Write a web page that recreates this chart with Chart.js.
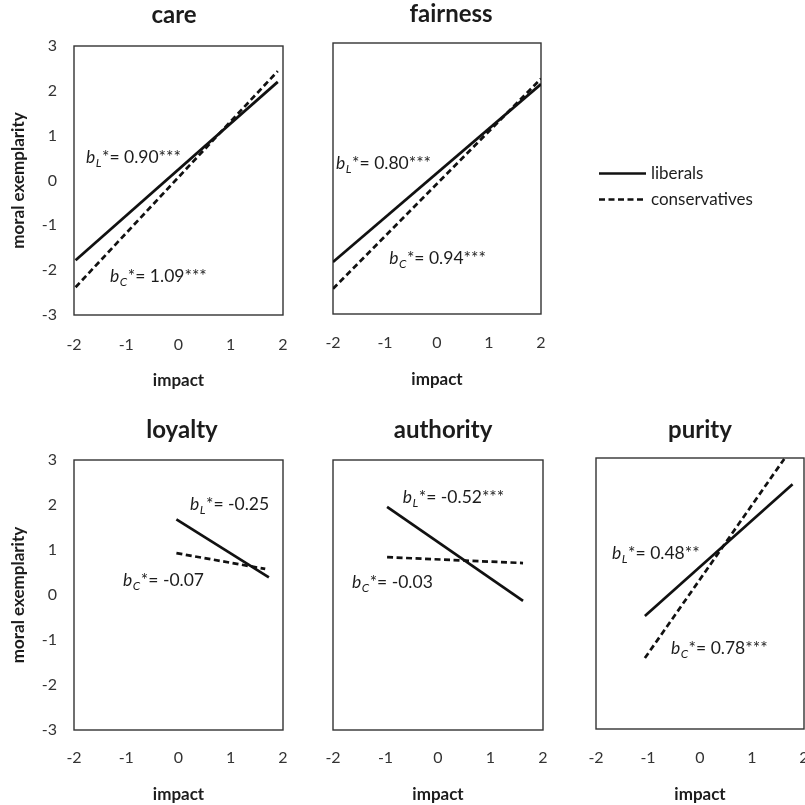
<!DOCTYPE html>
<html><head><meta charset="utf-8">
<script src="https://cdn.jsdelivr.net/npm/chart.js@4"></script>
<style>
html,body{margin:0;padding:0;background:#fff;overflow:hidden;width:805px;height:805px;position:relative;}
.p{position:absolute;}
canvas{display:block;}
</style></head><body>
<script>
// ---------- data ----------
const xTicks = [-2, -1, 0, 1, 2];
const yTicks = [-3, -2, -1, 0, 1, 2, 3];
const panelNames = ['care', 'fairness', 'loyalty', 'authority', 'purity'];
const seriesNames = ['liberals', 'conservatives'];
const xAxisTitle = 'impact';
const yAxisTitle = 'moral exemplarity';

// line endpoints [impact, moral exemplarity]
const careLib = [[-1.97, -1.78], [1.90, 2.20]];
const careCon = [[-1.97, -2.38], [1.90, 2.44]];
const fairLib = [[-2.00, -1.85], [2.00, 2.09]];
const fairCon = [[-2.00, -2.44], [2.00, 2.21]];
const loyLib = [[-0.04, 1.68], [1.73, 0.39]];
const loyCon = [[-0.04, 0.93], [1.66, 0.58]];
const authLib = [[-0.97, 1.96], [1.62, -0.13]];
const authCon = [[-0.97, 0.84], [1.62, 0.71]];
const purLib = [[-1.06, -0.50], [1.78, 2.42]];
const purCon = [[-1.06, -1.43], [1.62, 2.98]];

// standardized slopes shown as labels [liberals, conservatives]
const careStats = ['0.90***', '1.09***'];
const fairStats = ['0.80***', '0.94***'];
const loyStats = ['-0.25', '-0.07'];
const authStats = ['-0.52***', '-0.03'];
const purStats = ['0.48**', '0.78***'];

// ---------- layout / style ----------
const FONT = 'Lato, "Open Sans", "DejaVu Sans", sans-serif';
const INK = '#1c1c1c';
const TICK = '#333333';
const TICK_SIZE = 16;
const AX_TITLE_SIZE = 17;
const NOTE_SIZE = 17.5;

const panels = [
  {name: panelNames[0], lib: careLib, con: careCon, stats: careStats,
   cv: [0, 0, 300, 395], area: [74, 283, 46, 315], showY: true, title: [174, 23],
   notes: [[-1.77, 0.38], [-1.31, -2.26]], tickPad: 20.4, xTitlePad: 4.3, legend: false},
  {name: panelNames[1], lib: fairLib, con: fairCon, stats: fairStats,
   cv: [300, 0, 505, 395], area: [333, 541, 43, 314], showY: false, title: [451, 22],
   notes: [[-1.94, 0.22], [-0.92, -1.89]], tickPad: 19.6, xTitlePad: 4.8, legend: true},
  {name: panelNames[2], lib: loyLib, con: loyCon, stats: loyStats,
   cv: [0, 395, 300, 410], area: [74, 283, 460, 730], showY: true, title: [182, 438],
   notes: [[0.22, 1.89], [-1.06, 0.20]], tickPad: 18.6, xTitlePad: 0, legend: false},
  {name: panelNames[3], lib: authLib, con: authCon, stats: authStats,
   cv: [300, 395, 260, 410], area: [333, 543, 460, 730], showY: false, title: [443, 438],
   notes: [[-0.67, 2.04], [-1.64, 0.15]], tickPad: 18.6, xTitlePad: 0, legend: false},
  {name: panelNames[4], lib: purLib, con: purCon, stats: purStats,
   cv: [560, 395, 270, 410], area: [596, 804, 458, 729], showY: false, title: [700, 438],
   notes: [[-1.69, 0.76], [-0.56, -1.34]], tickPad: 19.4, xTitlePad: 0, legend: false}
];

function drawStat(ctx, x, base, sub, txt) {
  ctx.save();
  ctx.fillStyle = INK;
  ctx.textAlign = 'left';
  ctx.textBaseline = 'alphabetic';
  ctx.font = 'italic ' + NOTE_SIZE + 'px ' + FONT;
  ctx.fillText('b', x, base);
  const w = ctx.measureText('b').width;
  ctx.font = 'italic 12px ' + FONT;
  ctx.fillText(sub, x + w + 0.5, base + 4);
  const sw = ctx.measureText(sub).width;
  ctx.font = NOTE_SIZE + 'px ' + FONT;
  ctx.fillText('*= ' + txt, x + w + sw + 1, base);
  ctx.restore();
}

const decor = {
  id: 'decor',
  beforeDatasetsDraw(chart, args, opts) {
    const {ctx, chartArea: a} = chart;
    ctx.save();
    ctx.strokeStyle = '#333333';
    ctx.lineWidth = 1.4;
    ctx.strokeRect(a.left, a.top, a.right - a.left, a.bottom - a.top);
    ctx.restore();
  },
  afterDraw(chart, args, opts) {
    const {ctx, scales: {x, y}} = chart;
    const p = opts.panel;
    // title
    ctx.save();
    ctx.fillStyle = INK;
    ctx.font = 'bold 24px ' + FONT;
    ctx.textAlign = 'center';
    ctx.textBaseline = 'alphabetic';
    ctx.fillText(p.name, p.title[0] - p.cv[0], p.title[1] - p.cv[1]);
    ctx.restore();
    // slope labels
    drawStat(ctx, x.getPixelForValue(p.notes[0][0]), y.getPixelForValue(p.notes[0][1]), 'L', p.stats[0]);
    drawStat(ctx, x.getPixelForValue(p.notes[1][0]), y.getPixelForValue(p.notes[1][1]), 'C', p.stats[1]);
    // legend
    if (p.legend) {
      const a = chart.chartArea;
      chart.data.datasets.forEach((ds, i) => {
        const ly = 173.5 + i * 26;
        const lx = a.right + 58;
        ctx.save();
        ctx.strokeStyle = ds.borderColor;
        ctx.lineWidth = ds.borderWidth;
        ctx.setLineDash(ds.borderDash || []);
        ctx.beginPath();
        ctx.moveTo(lx, ly);
        ctx.lineTo(lx + 47, ly);
        ctx.stroke();
        ctx.setLineDash([]);
        ctx.fillStyle = INK;
        ctx.font = '17px ' + FONT;
        ctx.textAlign = 'left';
        ctx.textBaseline = 'middle';
        ctx.fillText(ds.label, lx + 52, ly);
        ctx.restore();
      });
    }
  }
};

panels.forEach((p, i) => {
  const [cl, ct, cw, ch] = p.cv;
  const [al, ar, at, ab] = p.area;
  const wrap = document.createElement('div');
  wrap.className = 'p';
  wrap.style.left = cl + 'px';
  wrap.style.top = ct + 'px';
  wrap.style.width = cw + 'px';
  wrap.style.height = ch + 'px';
  const cv = document.createElement('canvas');
  cv.width = cw; cv.height = ch;
  cv.style.width = cw + 'px'; cv.style.height = ch + 'px';
  wrap.appendChild(cv);
  document.body.appendChild(wrap);

  new Chart(cv.getContext('2d'), {
    type: 'line',
    data: {
      datasets: [
        {label: seriesNames[0], data: p.lib.map(([x, y]) => ({x, y})),
         borderColor: '#111', borderWidth: 2.7, pointRadius: 0, fill: false, tension: 0},
        {label: seriesNames[1], data: p.con.map(([x, y]) => ({x, y})),
         borderColor: '#111', borderWidth: 2.7, borderDash: [6, 3.5], pointRadius: 0, fill: false, tension: 0}
      ]
    },
    options: {
      responsive: false,
      animation: false,
      events: [],
      layout: {padding: {top: at - ct, right: cl + cw - ar, left: 0, bottom: 0}},
      plugins: {
        legend: {display: false},
        tooltip: {enabled: false},
        title: {display: false},
        decor: {panel: p}
      },
      scales: {
        x: {
          type: 'linear', min: -2, max: 2,
          afterBuildTicks: s => { s.ticks = xTicks.map(v => ({value: v})); },
          grid: {display: false, drawTicks: false},
          border: {display: false},
          ticks: {padding: p.tickPad, font: {size: TICK_SIZE, family: FONT}, color: TICK,
                  autoSkip: false, maxRotation: 0, callback: v => String(v)},
          title: {display: true, text: xAxisTitle, color: INK,
                  font: {size: AX_TITLE_SIZE, weight: 'bold', family: FONT},
                  padding: {top: 0, bottom: p.xTitlePad}},
          afterFit: s => { s.height = ct + ch - ab; s.paddingLeft = 0; s.paddingRight = 0; }
        },
        y: {
          type: 'linear', min: -3, max: 3,
          afterBuildTicks: s => { s.ticks = yTicks.map(v => ({value: v})); },
          grid: {display: false, drawTicks: false},
          border: {display: false},
          ticks: {display: p.showY, padding: 17, font: {size: TICK_SIZE, family: FONT}, color: TICK,
                  autoSkip: false, callback: v => String(v)},
          title: {display: p.showY, text: yAxisTitle, color: INK,
                  font: {size: AX_TITLE_SIZE, weight: 'bold', family: FONT},
                  padding: {top: 8.8, bottom: 0}},
          afterFit: s => { s.width = al - cl; s.paddingTop = 0; s.paddingBottom = 0; }
        }
      }
    },
    plugins: [decor]
  });
});
</script>
</body></html>
